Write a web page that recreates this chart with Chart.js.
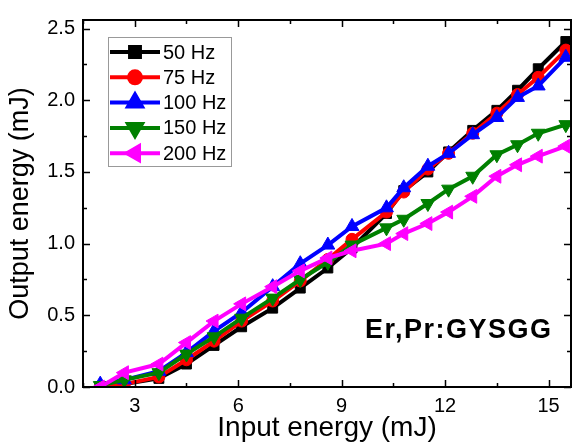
<!DOCTYPE html>
<html>
<head>
<meta charset="utf-8">
<script src="https://cdn.jsdelivr.net/npm/chart.js@4"></script>
<style>
  html, body { margin: 0; padding: 0; background: #fff; }
</style>
</head>
<body>
<canvas id="energyChart" width="580" height="442"></canvas>
<script>
// input energy (mJ), same for every repetition rate
const inputEnergy = [2.0, 2.7, 3.7, 4.5, 5.3, 6.1, 7.0, 7.8, 8.6, 9.3, 10.3, 10.8, 11.5, 12.1, 12.8, 13.5, 14.1, 14.7, 15.5];

// output energy (mJ)
const out50Hz  = [0.00, 0.02, 0.06, 0.16, 0.29, 0.42, 0.55, 0.69, 0.83, 0.97, 1.21, 1.37, 1.50, 1.64, 1.79, 1.93, 2.07, 2.22, 2.41];
const out75Hz  = [0.00, 0.02, 0.07, 0.19, 0.32, 0.46, 0.60, 0.74, 0.89, 1.03, 1.22, 1.36, 1.52, 1.63, 1.77, 1.91, 2.04, 2.16, 2.35];
const out100Hz = [0.02, 0.05, 0.11, 0.24, 0.39, 0.52, 0.70, 0.86, 0.99, 1.12, 1.25, 1.39, 1.54, 1.63, 1.76, 1.88, 2.02, 2.10, 2.30];
const out150Hz = [0.01, 0.05, 0.10, 0.23, 0.35, 0.48, 0.62, 0.75, 0.87, 0.99, 1.11, 1.17, 1.28, 1.38, 1.47, 1.62, 1.69, 1.77, 1.83];
const out200Hz = [0.00, 0.10, 0.16, 0.31, 0.46, 0.58, 0.70, 0.81, 0.90, 0.95, 1.00, 1.07, 1.14, 1.22, 1.33, 1.47, 1.55, 1.61, 1.68];

const seriesLabels = ['50 Hz', '75 Hz', '100 Hz', '150 Hz', '200 Hz'];

const xTicks = [3, 6, 9, 12, 15];
const xMinorTicks = [1.5, 4.5, 7.5, 10.5, 13.5];
const yTicks = [0, 0.5, 1.0, 1.5, 2.0, 2.5];
const yMinorTicks = [0.25, 0.75, 1.25, 1.75, 2.25];

const FONT = 'Arial, "Liberation Sans", sans-serif';

function pts(ys) {
    return inputEnergy.map((x, i) => ({ x: x, y: ys[i] }));
}

function series(label, ys, color, style, rotation, radius, order) {
    return {
        label: label,
        data: pts(ys),
        borderColor: color,
        backgroundColor: color,
        borderWidth: 4,
        pointStyle: style,
        rotation: rotation,
        pointRadius: radius,
        pointHoverRadius: radius,
        pointBorderWidth: 1,
        tension: 0,
        order: order
    };
}

// frame with inward ticks on all four sides
const framePlugin = {
    id: 'frame',
    afterDraw(chart) {
        const { ctx, chartArea: a, scales: { x, y } } = chart;
        ctx.save();
        ctx.strokeStyle = '#000';
        ctx.lineWidth = 2;
        ctx.strokeRect(a.left, a.top, a.right - a.left, a.bottom - a.top);

        ctx.lineWidth = 1.5;
        ctx.beginPath();
        const tickX = (v, len) => {
            const px = Math.round(x.getPixelForValue(v)) + 0.5;
            ctx.moveTo(px, a.bottom); ctx.lineTo(px, a.bottom - len);
            ctx.moveTo(px, a.top); ctx.lineTo(px, a.top + len);
        };
        const tickY = (v, len) => {
            const py = Math.round(y.getPixelForValue(v)) + 0.5;
            ctx.moveTo(a.left, py); ctx.lineTo(a.left + len, py);
            ctx.moveTo(a.right, py); ctx.lineTo(a.right - len, py);
        };
        xTicks.forEach(v => tickX(v, 7));
        xMinorTicks.forEach(v => tickX(v, 4));
        yTicks.forEach(v => tickY(v, 7));
        yMinorTicks.forEach(v => tickY(v, 4));
        ctx.stroke();

        // sample label
        ctx.fillStyle = '#000';
        ctx.font = 'bold 27px ' + FONT;
        ctx.textAlign = 'left';
        ctx.textBaseline = 'middle';
        if ('letterSpacing' in ctx) ctx.letterSpacing = '1.5px';
        ctx.fillText('Er,Pr:GYSGG', 365, 331);
        ctx.restore();
    }
};

// boxed legend in the upper left
const legendPlugin = {
    id: 'boxLegend',
    afterDraw(chart) {
        const ctx = chart.ctx;
        const left = 108, top = 37, w = 123, h = 129;
        ctx.save();
        ctx.fillStyle = '#fff';
        ctx.fillRect(left, top, w, h);
        ctx.strokeStyle = '#999';
        ctx.lineWidth = 1;
        ctx.strokeRect(left + 0.5, top + 0.5, w, h);
        chart.data.datasets.forEach((ds, i) => {
            const cy = top + 15 + i * 25.3;
            ctx.strokeStyle = ds.borderColor;
            ctx.lineWidth = 4;
            ctx.beginPath();
            ctx.moveTo(left + 2, cy);
            ctx.lineTo(left + 52, cy);
            ctx.stroke();
            ctx.fillStyle = ds.backgroundColor;
            Chart.helpers.drawPoint(ctx, {
                pointStyle: ds.pointStyle,
                rotation: ds.rotation,
                radius: ds.pointRadius,
                borderWidth: 1
            }, left + 27, cy);
            ctx.fillStyle = '#000';
            ctx.font = '20px ' + FONT;
            ctx.textAlign = 'left';
            ctx.textBaseline = 'middle';
            ctx.fillText(ds.label, left + 55, cy + 1);
        });
        ctx.restore();
    }
};

const ctx = document.getElementById('energyChart').getContext('2d');

new Chart(ctx, {
    type: 'line',
    data: {
        datasets: [
            series(seriesLabels[0], out50Hz, '#000000', 'rect', 0, 7, 5),
            series(seriesLabels[1], out75Hz, '#ff0000', 'circle', 0, 6, 4),
            series(seriesLabels[2], out100Hz, '#0000ff', 'triangle', 0, 8, 3),
            series(seriesLabels[3], out150Hz, '#008000', 'triangle', 180, 8, 2),
            series(seriesLabels[4], out200Hz, '#ff00ff', 'triangle', -90, 8, 1)
        ]
    },
    options: {
        responsive: false,
        animation: false,
        layout: { padding: { top: 15, right: 2, left: 0, bottom: 0 } },
        plugins: {
            legend: { display: false },
            tooltip: { enabled: false }
        },
        scales: {
            x: {
                type: 'linear',
                min: 1.5,
                max: 15.65,
                grid: { display: false, drawTicks: false },
                border: { display: false },
                afterBuildTicks: s => { s.ticks = xTicks.map(v => ({ value: v })); },
                afterFit: s => { s.height = 55; },
                ticks: {
                    color: '#000',
                    padding: 7,
                    maxRotation: 0,
                    font: { family: FONT, size: 20 },
                    callback: v => String(v)
                },
                title: {
                    display: true,
                    text: 'Input energy (mJ)',
                    color: '#000',
                    font: { family: FONT, size: 28 },
                    padding: { top: 0, bottom: -3 }
                }
            },
            y: {
                type: 'linear',
                min: 0,
                max: 2.56,
                grid: { display: false, drawTicks: false },
                border: { display: false },
                afterBuildTicks: s => { s.ticks = yTicks.map(v => ({ value: v })); },
                afterFit: s => { s.width = 83; },
                ticks: {
                    color: '#000',
                    padding: 8,
                    font: { family: FONT, size: 20 },
                    callback: v => v.toFixed(1)
                },
                title: {
                    display: true,
                    text: 'Output energy (mJ)',
                    color: '#000',
                    font: { family: FONT, size: 27 },
                    padding: { top: 4, bottom: 0 }
                }
            }
        }
    },
    plugins: [framePlugin, legendPlugin]
});
</script>
</body>
</html>
